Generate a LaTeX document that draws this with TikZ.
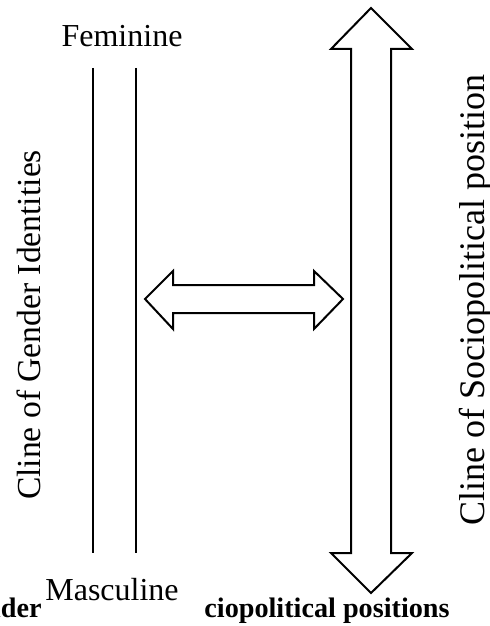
\documentclass[tikz,border=0pt]{standalone}
\usepackage{fontspec}
\setmainfont{Liberation Serif}
\usetikzlibrary{positioning}
\tikzset{
  pole/.style={line width=1pt},
  fat/.style={draw,line width=1pt,fill=white,line join=miter},
  end label/.style={font=\fontsize{16}{18}\selectfont,inner sep=0pt,anchor=base},
  cline/.style={inner sep=0pt,rotate=90,anchor=base},
  caption/.style={font=\bfseries\fontsize{14.1}{16}\selectfont,inner sep=0pt,anchor=base east},
}
\begin{document}
\begin{tikzpicture}[x=0.5pt,y=-0.5pt]
 \useasboundingbox (0,0) rectangle (490,626);
 % gender cline
 \node[end label] (fem) at (122,47) {Feminine};
 \node[end label] (masc) at (112,600) {Masculine};
 \coordinate (gl top) at (93,68);  \coordinate (gl bot) at (93,553);
 \coordinate (gr top) at (136,68); \coordinate (gr bot) at (136,553);
 \draw[pole] (gl top) -- (gl bot);
 \draw[pole] (gr top) -- (gr bot);
 \node[cline,font=\fontsize{16.8}{18}\selectfont] (gender) at (40,325) {Cline of Gender Identities};
 % sociopolitical cline
 \coordinate (vtip) at (371,8); \coordinate (vbot) at (371,593);
 \draw[fat] (vtip) -- (412,49) -- (391,49) -- (391,553) -- (412,553) -- (vbot)
   -- (331,553) -- (351,553) -- (351,49) -- (331,49) -- cycle;
 \node[cline,font=\fontsize{18}{20}\selectfont] (socio) at (484,300) {Cline of Sociopolitical position};
 % link between the two
 \coordinate (hl) at (145,299); \coordinate (hr) at (343,299);
 \draw[fat] (hl) -- (173,271) -- (173,285) -- (314,285) -- (314,271) -- (hr)
   -- (314,329) -- (314,313) -- (173,313) -- (173,329) -- cycle;
 % captions, partly hidden
 \node[caption] (capl) at (42,617) {Cline of Gender};
 \begin{scope}
  \clip (204,590) rectangle (490,626);
  \node[caption] (capr) at (450,617) {Cline of Sociopolitical positions};
 \end{scope}
\end{tikzpicture}
\end{document}
